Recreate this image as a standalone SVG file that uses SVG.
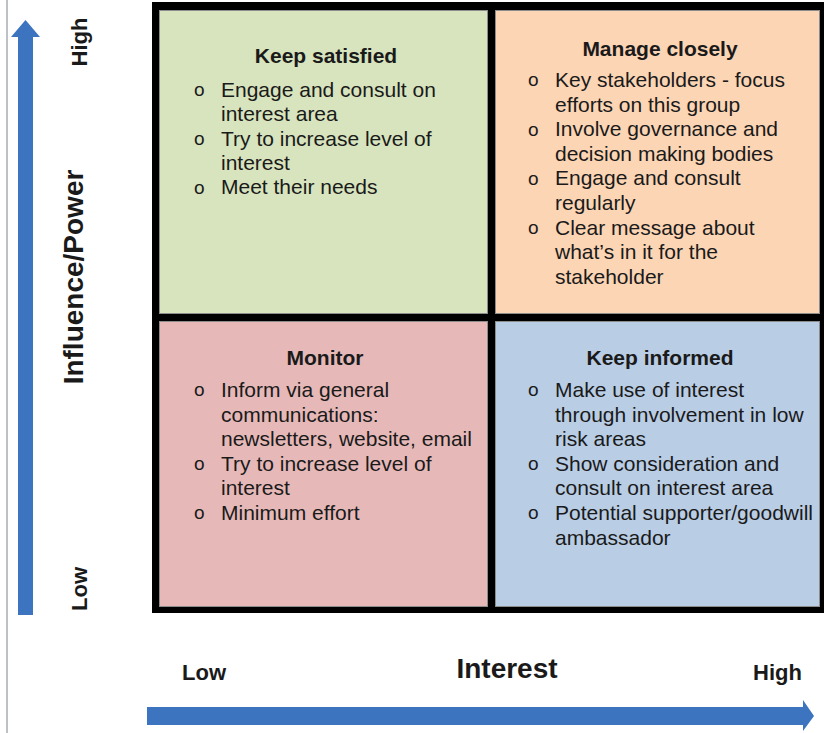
<svg xmlns="http://www.w3.org/2000/svg" width="824" height="733" viewBox="0 0 824 733">
<style>
text{font-family:"Liberation Sans",Arial,sans-serif;fill:#1a1a1a}
.t{font-size:21px;font-weight:bold;text-anchor:middle}
.b{font-size:21px}
.o{font-size:19px}
.ax{font-size:22px;font-weight:bold}
.big{font-size:28px;font-weight:bold}
.cell{stroke:#8c8c8c;stroke-width:1}
.arrow{fill:#3c74c0}
</style>
<rect width="824" height="733" fill="#ffffff"/>
<line x1="7" y1="0" x2="7" y2="733" stroke="#a4acb4" stroke-width="1.5"/>
<g id="frame"><rect x="152" y="2" width="672" height="611" fill="#000"/></g>
<g id="keep-satisfied">
<rect class="cell" x="159.5" y="10.5" width="328" height="303" fill="#d7e4bd"/>
<text class="t" x="326" y="63">Keep satisfied</text>
<text class="o" x="194" y="96">o</text><text class="b" x="221" y="97">Engage and consult on</text>
<text class="b" x="221" y="121.3">interest area</text>
<text class="o" x="194" y="145">o</text><text class="b" x="221" y="145.6">Try to increase level of</text>
<text class="b" x="221" y="169.9">interest</text>
<text class="o" x="194" y="194">o</text><text class="b" x="221" y="194.2">Meet their needs</text>
</g>
<g id="manage-closely">
<rect class="cell" x="495.5" y="10.5" width="324" height="303" fill="#fcd5b5"/>
<text class="t" x="660" y="56">Manage closely</text>
<text class="o" x="528" y="86">o</text><text class="b" x="555" y="87">Key stakeholders - focus</text>
<text class="b" x="555" y="111.6">efforts on this group</text>
<text class="o" x="528" y="136">o</text><text class="b" x="555" y="136.2">Involve governance and</text>
<text class="b" x="555" y="160.8">decision making bodies</text>
<text class="o" x="528" y="185">o</text><text class="b" x="555" y="185.4">Engage and consult</text>
<text class="b" x="555" y="210">regularly</text>
<text class="o" x="528" y="234">o</text><text class="b" x="555" y="234.6">Clear message about</text>
<text class="b" x="555" y="259.2">what’s in it for the</text>
<text class="b" x="555" y="283.8">stakeholder</text>
</g>
<g id="monitor">
<rect class="cell" x="159.5" y="321.5" width="328" height="285" fill="#e6b9b8"/>
<text class="t" x="325" y="365">Monitor</text>
<text class="o" x="194" y="396">o</text><text class="b" x="221" y="397">Inform via general</text>
<text class="b" x="221" y="421.6">communications:</text>
<text class="b" x="221" y="446.2">newsletters, website, email</text>
<text class="o" x="194" y="470">o</text><text class="b" x="221" y="470.8">Try to increase level of</text>
<text class="b" x="221" y="495.4">interest</text>
<text class="o" x="194" y="519">o</text><text class="b" x="221" y="520">Minimum effort</text>
</g>
<g id="keep-informed">
<rect class="cell" x="495.5" y="321.5" width="324" height="285" fill="#b9cde5"/>
<text class="t" x="660" y="365">Keep informed</text>
<text class="o" x="528" y="396">o</text><text class="b" x="555" y="397">Make use of interest</text>
<text class="b" x="555" y="421.6">through involvement in low</text>
<text class="b" x="555" y="446.2">risk areas</text>
<text class="o" x="528" y="470">o</text><text class="b" x="555" y="470.8">Show consideration and</text>
<text class="b" x="555" y="495.4">consult on interest area</text>
<text class="o" x="528" y="519">o</text><text class="b" x="555" y="520">Potential supporter/goodwill</text>
<text class="b" x="555" y="544.6">ambassador</text>
</g>
<g id="connectors">
<path class="arrow" d="M18,615 L18,37 L11,37 L25.5,20 L40,37 L33,37 L33,615 Z"/>
<path class="arrow" d="M147,707 L803,707 L803,700 L814,716 L803,731 L803,725 L147,725 Z"/>
</g>
<g id="axis-labels">
<text class="ax" transform="translate(87,42) rotate(-90)" text-anchor="middle">High</text>
<text class="ax" transform="translate(87,589) rotate(-90)" text-anchor="middle">Low</text>
<text class="big" transform="translate(83,277) rotate(-90)" text-anchor="middle">Influence/Power</text>
<text class="ax" x="182" y="680">Low</text>
<text class="big" x="507" y="678" text-anchor="middle">Interest</text>
<text class="ax" x="802" y="680" text-anchor="end">High</text>
</g>
</svg>
